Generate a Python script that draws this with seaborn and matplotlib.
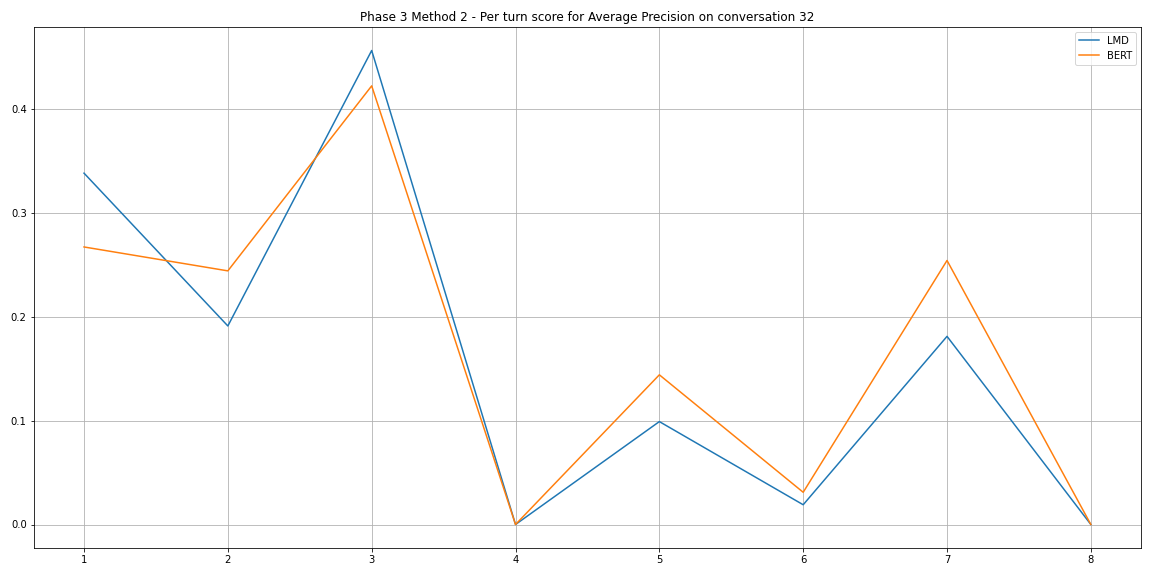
import matplotlib
matplotlib.use('Agg')
import matplotlib.pyplot as plt
import seaborn as sns
import pandas as pd

turns = [1, 2, 3, 4, 5, 6, 7, 8]
lmd_scores = [0.338, 0.191, 0.456, 0.0, 0.099, 0.019, 0.181, 0.0]
bert_scores = [0.267, 0.244, 0.422, 0.0, 0.144, 0.031, 0.254, 0.0]

df = pd.DataFrame({'turn': turns * 2,
                   'score': lmd_scores + bert_scores,
                   'model': ['LMD'] * len(turns) + ['BERT'] * len(turns)})

fig, ax = plt.subplots(figsize=(16, 8), dpi=72)
sns.lineplot(data=df, x='turn', y='score', hue='model',
             palette=['#1f77b4', '#ff7f0e'], ax=ax)
ax.set_title('Phase 3 Method 2 - Per turn score for Average Precision on conversation 32')
ax.set_xlabel('')
ax.set_ylabel('')
ax.grid(True)
ax.legend(title=None, loc='upper right')
plt.tight_layout()
plt.savefig('out.png')
